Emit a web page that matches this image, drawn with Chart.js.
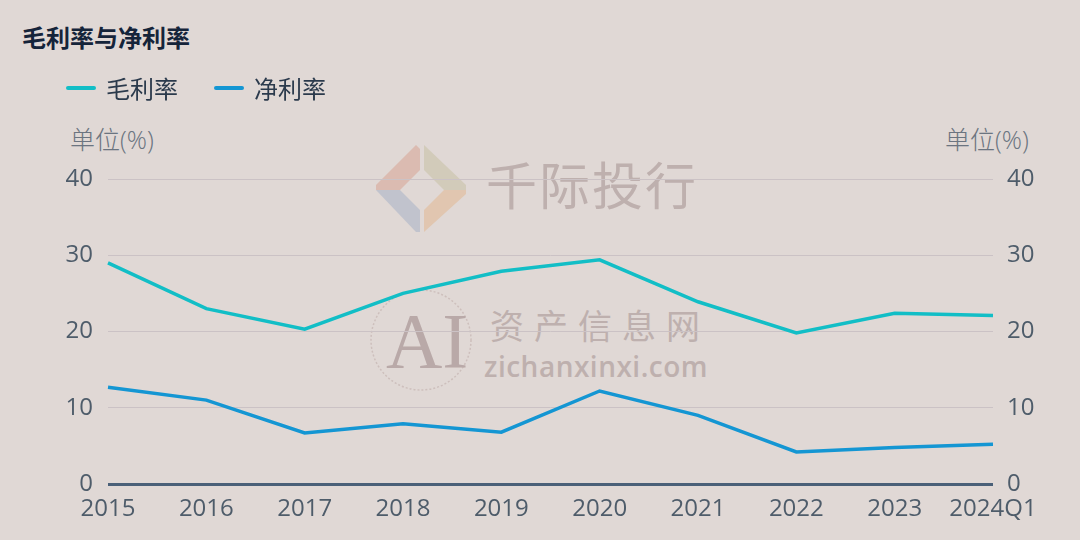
<!DOCTYPE html>
<html><head><meta charset="utf-8">
<script src="https://cdn.jsdelivr.net/npm/chart.js@4.4.1/dist/chart.umd.min.js"></script>
<style>
html,body{margin:0;padding:0;}
body{width:1080px;height:540px;background:#e0d8d5;position:relative;overflow:hidden;font-family:"Open Sans","Noto Sans CJK SC",sans-serif;}
#c{position:absolute;left:0;top:0;width:1080px;height:540px;z-index:2;}
.abs{position:absolute;white-space:nowrap;}
#title{left:22px;top:19px;font-size:24px;font-weight:bold;color:#15243a;font-family:"Noto Sans CJK SC",sans-serif;}
#legend{left:66px;top:70px;display:flex;align-items:center;font-size:24px;color:#2b3a4c;font-family:"Noto Sans CJK SC",sans-serif;z-index:3;}
.li{display:flex;align-items:center;margin-right:36px;}
.sw{width:30px;height:4px;border-radius:2px;margin-right:10px;}
.unit{top:120px;font-size:25px;color:#6b7480;font-family:"Open Sans","Noto Sans CJK SC",sans-serif;font-weight:300;}
#wm{position:absolute;left:0;top:0;width:1080px;height:540px;z-index:1;}
.wmt{position:absolute;white-space:nowrap;color:#beb0ae;font-family:"Noto Sans CJK SC",sans-serif;}
</style></head>
<body>
<div id="wm">
<svg width="1080" height="540" style="position:absolute;left:0;top:0">
 <g opacity="0.55">
  <polygon points="376,185 416,145 420,149 420,170 400,190 376,190" fill="#d8a494"/>
  <polygon points="424,145 466,185 466,190 444,190 424,170" fill="#c8c1a4"/>
  <polygon points="376,190 400,190 420,210 420,232 416,232" fill="#a9b3c8"/>
  <polygon points="444,190 466,190 466,194 424,232 424,210" fill="#e2b992"/>
 </g>
 <circle cx="421" cy="340" r="50" fill="none" stroke="#cdbfbc" stroke-width="1.5" stroke-dasharray="2 2"/>
</svg>
<div class="wmt" style="left:486px;top:146px;font-size:51px;letter-spacing:2px;">千际投行</div>
<div class="wmt" style="left:386px;top:296px;font-size:78px;font-family:'Liberation Serif',serif;color:#b9a9a8;">AI</div>
<div class="wmt" style="left:490px;top:300px;font-size:34px;letter-spacing:10px;">资产信息网</div>
<div class="wmt" style="left:484px;top:347px;font-size:28px;font-family:'Open Sans',sans-serif;font-weight:600;letter-spacing:0.5px;">zichanxinxi.com</div>
</div>
<div id="title" class="abs">毛利率与净利率</div>
<div id="legend" class="abs"></div>
<div class="abs unit" style="left:70px;">单位(%)</div>
<div class="abs unit" style="left:945px;">单位(%)</div>
<canvas id="c" width="1080" height="540"></canvas>
<script>
const categories = ["2015","2016","2017","2018","2019","2020","2021","2022","2023","2024Q1"];
const grossMargin = [29.0, 23.0, 20.3, 25.0, 27.9, 29.4, 23.9, 19.8, 22.4, 22.1];
const netMargin = [12.7, 11.0, 6.7, 7.9, 6.8, 12.2, 9.0, 4.2, 4.8, 5.2];
const seriesNames = ["毛利率", "净利率"];
const seriesColors = ["#12bec6", "#1496d3"];
const yTicks = [0, 10, 20, 30, 40];

const lg = document.getElementById('legend');
seriesNames.forEach((n,i)=>{
  const d=document.createElement('div');d.className='li';
  d.innerHTML='<span class="sw" style="background:'+seriesColors[i]+'"></span><span>'+n+'</span>';
  lg.appendChild(d);
});

const tickFont = {family:"'Open Sans', sans-serif", size:24};
const tickColor = "#4e5c6a";
new Chart(document.getElementById('c'), {
  type:'line',
  data:{labels:categories, datasets:[
    {label:seriesNames[0], data:grossMargin, borderColor:seriesColors[0], borderWidth:3.5, pointRadius:0, tension:0, yAxisID:'y'},
    {label:seriesNames[1], data:netMargin, borderColor:seriesColors[1], borderWidth:3.5, pointRadius:0, tension:0, yAxisID:'y'}
  ]},
  options:{
    responsive:false, animation:false, devicePixelRatio:1,
    layout:{padding:{top:179,left:0,right:0,bottom:0}},
    plugins:{legend:{display:false}, title:{display:false}, tooltip:{enabled:false}},
    scales:{
      x:{offset:false, grid:{display:false, drawTicks:false}, border:{display:false},
         ticks:{font:tickFont, color:tickColor, padding:11, maxRotation:0, autoSkip:false},
         afterFit:s=>{s.height=56;}},
      y:{position:'left', min:yTicks[0], max:yTicks[yTicks.length-1],
         afterBuildTicks:s=>{s.ticks=yTicks.map(v=>({value:v}));},
         grid:{drawTicks:false, color:c=>c.tick&&c.tick.value===0?'#4a6078':'#cbc2c5', lineWidth:c=>c.tick&&c.tick.value===0?3:1},
         border:{display:false},
         ticks:{font:tickFont, color:tickColor, padding:15},
         afterFit:s=>{s.width=108;}},
      y2:{position:'right', min:yTicks[0], max:yTicks[yTicks.length-1],
         afterBuildTicks:s=>{s.ticks=yTicks.map(v=>({value:v}));},
         grid:{display:false, drawTicks:false}, border:{display:false},
         ticks:{font:tickFont, color:tickColor, padding:14},
         afterFit:s=>{s.width=87;}}
    }
  }
});
</script>
</body></html>
